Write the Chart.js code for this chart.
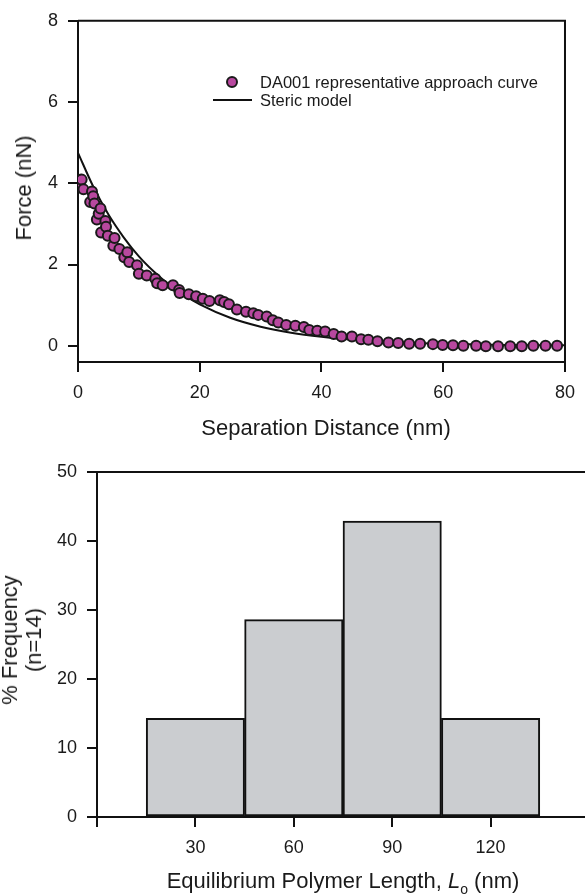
<!DOCTYPE html>
<html><head><meta charset="utf-8">
<script src="https://cdn.jsdelivr.net/npm/chart.js@4/dist/chart.umd.min.js"></script>
<style>
html,body{margin:0;padding:0;background:#fff;width:585px;height:894px;overflow:hidden;position:relative;font-family:"Liberation Sans",Arial,sans-serif;color:#1a1a1a}
canvas{position:absolute;left:0}
#c1{top:0}
#c2{top:440px}
.t{position:absolute;white-space:nowrap;font-size:22px;line-height:1;transform:translate(-50%,-50%)}
.rot{transform:translate(-50%,-50%) rotate(-90deg)}
.lg{position:absolute;white-space:nowrap;font-size:16.5px;line-height:1;transform:translateY(-50%)}
.dot{position:absolute;width:8px;height:8px;border-radius:50%;background:#b8489f;border:2px solid #1a1a1a;transform:translate(-50%,-50%)}
.ln{position:absolute;height:2px;background:#111;transform:translateY(-50%)}
sub{font-size:14px;vertical-align:-6px}
</style>
</head><body>
<canvas id="c1" width="585" height="440"></canvas>
<canvas id="c2" width="600" height="454"></canvas>

<div class="t rot" style="left:24px;top:188px">Force (nN)</div>
<div class="t" style="left:326px;top:428px">Separation Distance (nm)</div>
<div class="t rot" style="left:22px;top:640px;text-align:center;line-height:24px">% Frequency<br>(n=14)</div>
<div class="t" style="left:343px;top:883px">Equilibrium Polymer Length, <i>L</i><sub>o</sub> (nm)</div>

<div class="dot" style="left:232px;top:82px"></div>
<div class="lg" style="left:260px;top:82px">DA001 representative approach curve</div>
<div class="ln" style="left:213px;top:100px;width:39px"></div>
<div class="lg" style="left:260px;top:100px">Steric model</div>

<script>
// ---- Top panel: force vs separation ----
const approachX = [0.3,0.6,0.9,2.0,2.3,2.5,2.7,3.1,3.4,3.7,3.8,4.5,4.6,4.9,5.8,6.0,6.8,7.6,8.1,8.4,9.7,10.0,11.3,12.7,13.0,13.9,15.6,16.6,16.7,18.2,19.4,20.5,21.6,23.3,24.0,24.8,26.1,27.6,28.8,29.6,31.0,32.0,32.9,34.2,35.7,37.1,38.0,39.3,40.6,42.0,43.3,45.0,46.5,47.7,49.2,51.0,52.6,54.4,56.2,58.3,59.9,61.6,63.3,65.4,67.0,69.0,71.0,72.9,74.8,76.8,78.7];
const approachY = [3.93,4.09,3.85,3.54,3.80,3.68,3.50,3.11,3.25,3.38,2.79,3.07,2.93,2.71,2.46,2.65,2.38,2.18,2.30,2.06,1.98,1.77,1.73,1.65,1.54,1.49,1.49,1.37,1.30,1.27,1.22,1.16,1.10,1.12,1.08,1.02,0.89,0.84,0.80,0.76,0.72,0.63,0.57,0.51,0.49,0.46,0.39,0.37,0.35,0.29,0.23,0.23,0.16,0.15,0.11,0.08,0.07,0.05,0.05,0.04,0.02,0.01,0.00,0.00,-0.01,-0.01,-0.01,-0.01,0.00,0.00,0.00];
const modelX = [0,2.5,5,7.5,10,12.5,15,17.5,20,25,30,35,40,45,50,60,70,80];
const modelY = [4.75,3.92,3.23,2.67,2.20,1.82,1.50,1.24,1.02,0.69,0.47,0.32,0.22,0.15,0.10,0.05,0.02,0.01];
const forceTicks = [0,2,4,6,8];
const distanceTicks = [0,20,40,60,80];

// ---- Bottom panel: histogram ----
const lengthBins = [30,60,90,120];
const frequencyPct = [14.3,28.6,42.9,14.3];
const lengthTicks = [0,30,60,90,120];
const lengthLabels = ['','30','60','90','120'];
const freqTicks = [0,10,20,30,40,50];

const INK = '#111';
const tickFont = {family:'"Liberation Sans", Arial, sans-serif', size:18};

const framePlugin = {
  id:'frame',
  afterDraw(chart, args, opts){
    const {ctx, chartArea:a} = chart;
    ctx.save();
    ctx.strokeStyle = INK; ctx.lineWidth = 2;
    ctx.beginPath();
    ctx.moveTo(a.left, a.top); ctx.lineTo(a.right, a.top);
    if (opts.right) ctx.lineTo(a.right, a.bottom);
    ctx.stroke();
    ctx.restore();
  }
};

function axisBase(ticksArr, labels, fixed, isX, pad){
  return {
    grid:{display:true, offset:false, drawOnChartArea:false, drawTicks:true, tickLength:10, color:INK, lineWidth:2},
    border:{display:true, color:INK, width:2},
    ticks:{font:tickFont, color:'#1a1a1a', padding:pad, autoSkip:false, maxRotation:0,
      callback:(v)=>{ const i = ticksArr.indexOf(v); return i<0 ? '' : (labels ? labels[i] : String(v)); }},
    afterBuildTicks:(s)=>{ s.ticks = ticksArr.map(v=>({value:v})); },
    afterFit:(s)=>{ if(isX) s.height = fixed; else s.width = fixed; }
  };
}

new Chart(document.getElementById('c1'), {
  type:'scatter',
  data:{datasets:[
    {label:'DA001 representative approach curve',
     data: approachX.map((x,i)=>({x, y:approachY[i]})),
     pointRadius:5, pointHoverRadius:5, pointBackgroundColor:'#b8489f', pointBorderColor:'#1a1a1a', pointBorderWidth:2},
    {label:'Steric model',
     data: modelX.map((x,i)=>({x, y:modelY[i]})),
     showLine:true, pointRadius:0, borderColor:INK, borderWidth:2, cubicInterpolationMode:'monotone', fill:false}
  ]},
  options:{
    responsive:false, animation:false, devicePixelRatio:1,
    layout:{padding:{top:18, right:12, left:0, bottom:0}},
    plugins:{legend:{display:false}, tooltip:{enabled:false}, frame:{right:true}},
    scales:{
      x:Object.assign(axisBase(distanceTicks, null, 78, true, 10), {type:'linear', min:0, max:80}),
      y:Object.assign(axisBase(forceTicks, null, 78, false, 10), {type:'linear', min:-0.4, max:8})
    }
  },
  plugins:[framePlugin]
});

new Chart(document.getElementById('c2'), {
  type:'bar',
  data:{datasets:[{
    label:'% Frequency',
    data: lengthBins.map((x,i)=>({x, y:frequencyPct[i]})),
    backgroundColor:'#cbcdd0', borderColor:INK, borderWidth:2, borderSkipped:false,
    barPercentage:1, categoryPercentage:1
  }]},
  options:{
    responsive:false, animation:false, devicePixelRatio:1,
    layout:{padding:{top:32, right:11, left:0, bottom:0}},
    plugins:{legend:{display:false}, tooltip:{enabled:false}, frame:{right:false}},
    scales:{
      x:Object.assign(axisBase(lengthTicks, lengthLabels, 77, true, 10), {type:'linear', min:0, max:150, offset:false}),
      y:Object.assign(axisBase(freqTicks, null, 97, false, 10), {type:'linear', min:0, max:50})
    }
  },
  plugins:[framePlugin]
});
</script>
</body></html>
